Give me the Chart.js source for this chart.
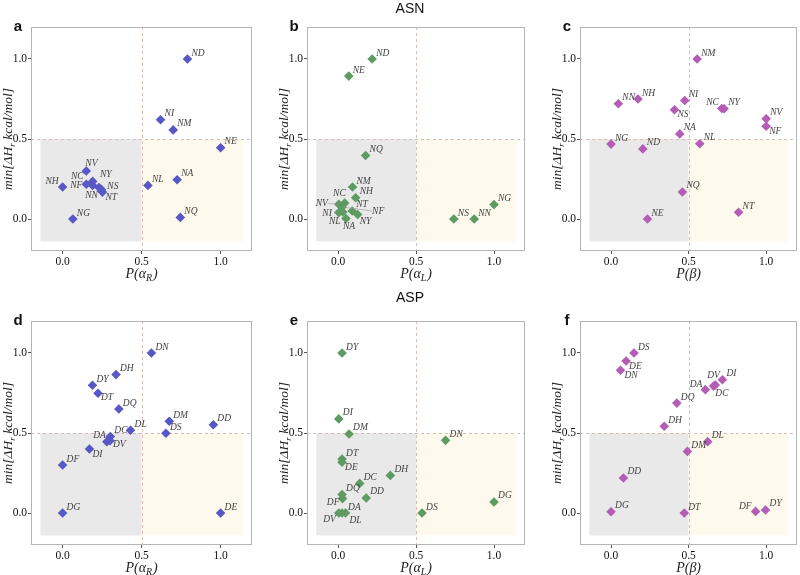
<!DOCTYPE html>
<html>
<head>
<meta charset="utf-8">
<script src="https://cdn.jsdelivr.net/npm/chart.js@4/dist/chart.umd.min.js"></script>
<style>
  body { margin: 0; width: 800px; height: 575px; overflow: hidden; background: #fff; position: relative; font-family: "Liberation Sans", Arial, sans-serif; }
  .panel { position: absolute; }
  .head { position: absolute; font-size: 14px; color: #111; z-index: 2; transform: translateX(-50%); }
</style>
</head>
<body>
<div class="head" style="left:410px;top:0px">ASN</div>
<div class="head" style="left:410px;top:289px">ASP</div>
<canvas class="panel" id="pa"></canvas>
<canvas class="panel" id="pb"></canvas>
<canvas class="panel" id="pc"></canvas>
<canvas class="panel" id="pd"></canvas>
<canvas class="panel" id="pe"></canvas>
<canvas class="panel" id="pf"></canvas>
<script>
// tick values shared by every panel
var xTicks = [0, 0.5, 1];
var yTicks = [0, 0.5, 1];

// ASN, P(alpha_R)
var aNames = ['ND','NI','NM','NE','NA','NL','NQ','NG','NH','NV','NC','NY','NF','NN','NS','NT'];
var aX = [0.79, 0.62, 0.70, 1.0, 0.725, 0.54, 0.745, 0.065, 0.0, 0.15, 0.19, 0.23, 0.15, 0.19, 0.245, 0.252];
var aY = [1.0, 0.62, 0.557, 0.445, 0.245, 0.21, 0.01, 0.0, 0.2, 0.3, 0.235, 0.197, 0.217, 0.21, 0.185, 0.168];

// ASN, P(alpha_L)
var bNames = ['ND','NE','NQ','NM','NH','NS','NN','NG','NV','NC','NF','NI','NL','NT','NY','NA'];
var bX = [0.218, 0.068, 0.176, 0.092, 0.112, 0.742, 0.873, 1.0, 0.004, 0.042, 0.025, 0.004, 0.03, 0.09, 0.125, 0.05];
var bY = [1.0, 0.893, 0.397, 0.2, 0.133, 0.0, 0.0, 0.09, 0.092, 0.1, 0.075, 0.04, 0.044, 0.05, 0.028, 0.003];

// ASN, P(beta)
var cNames = ['NM','NN','NH','NI','NS','NC','NY','NV','NF','NA','NG','ND','NL','NQ','NE','NT'];
var cX = [0.555, 0.047, 0.174, 0.475, 0.409, 0.714, 0.729, 1.0, 1.0, 0.443, 0.0, 0.205, 0.572, 0.46, 0.235, 0.822];
var cY = [1.0, 0.72, 0.75, 0.741, 0.683, 0.691, 0.689, 0.626, 0.58, 0.532, 0.468, 0.438, 0.47, 0.169, 0.0, 0.042];

// ASP, P(alpha_R)
var dNames = ['DN','DH','DY','DT','DQ','DM','DD','DS','DL','DC','DA','DV','DI','DF','DG','DE'];
var dX = [0.562, 0.338, 0.189, 0.224, 0.356, 0.675, 0.954, 0.654, 0.43, 0.302, 0.28, 0.3, 0.17, 0.0, 0.0, 1.0];
var dY = [1.0, 0.865, 0.798, 0.748, 0.65, 0.573, 0.552, 0.498, 0.517, 0.478, 0.445, 0.452, 0.4, 0.3, 0.0, 0.0];

// ASP, P(alpha_L)
var eNames = ['DY','DI','DM','DN','DT','DE','DH','DC','DQ','DF','DD','DS','DG','DV','DA','DL'];
var eX = [0.025, 0.004, 0.07, 0.689, 0.025, 0.025, 0.335, 0.138, 0.025, 0.028, 0.18, 0.538, 1.0, 0.004, 0.025, 0.047];
var eY = [1.0, 0.588, 0.494, 0.454, 0.337, 0.317, 0.235, 0.185, 0.115, 0.09, 0.094, 0.0, 0.069, 0.0, 0.0, 0.0];

// ASP, P(beta)
var fNames = ['DS','DE','DN','DV','DI','DA','DC','DQ','DH','DL','DM','DD','DG','DT','DF','DY'];
var fX = [0.148, 0.097, 0.061, 0.661, 0.718, 0.608, 0.672, 0.424, 0.343, 0.623, 0.492, 0.08, 0.0, 0.472, 0.932, 0.996];
var fY = [1.0, 0.95, 0.892, 0.793, 0.833, 0.771, 0.8, 0.687, 0.542, 0.446, 0.385, 0.219, 0.008, 0.0, 0.01, 0.019];

// label placement tweaks (px from the marker): [dx, dy, align, leader line]
var aNudge = {NH:[-4,-6,'r'], NV:[-1,-8,'l'], NC:[-9,-5,'r'], NY:[1,-13,'l'], NF:[-4,1,'r'], NN:[-1,10,'c'], NS:[6,-3,'l'], NT:[3,5,'l']};
var bNudge = {NC:[1,-10,'r'], NV:[-11,-1,'r',1], NT:[4,-7,'l'], NF:[30,4,'l',1], NI:[-7,1,'r'], NL:[-8,10,'c'], NA:[3,8,'c'], NY:[2,7,'l']};
var cNudge = {NS:[3,5,'l'], NC:[-3,-6,'r'], NF:[3,5,'l']};
var dNudge = {DT:[3,4,'l'], DA:[-1,-6,'r'], DV:[3,4,'l'], DI:[3,5,'l']};
var eNudge = {DE:[3,5,'l'], DF:[-3,4,'r'], DV:[-3,6,'r'], DA:[6,-6,'l'], DL:[4,7,'l']};
var fNudge = {DE:[3,5,'l'], DN:[4,5,'l'], DV:[0,-11,'c'], DA:[-3,-5,'r'], DC:[0,8,'l'], DF:[-4,-5,'r']};

var blue = '#5757c6', green = '#5e9b62', purple = '#b45cb6';
var serif = '"Liberation Serif", "DejaVu Serif", serif';

// L/T/W: where the plot box sits on the page (W includes ~4px the layout eats on the right)
var panels = [
  {id:'pa', letter:'a', names:aNames, xs:aX, ys:aY, nudge:aNudge, color:blue,   greek:'α', sub:'R', L:31,  T:27,  W:226},
  {id:'pb', letter:'b', names:bNames, xs:bX, ys:bY, nudge:bNudge, color:green,  greek:'α', sub:'L', L:307, T:27,  W:223},
  {id:'pc', letter:'c', names:cNames, xs:cX, ys:cY, nudge:cNudge, color:purple, greek:'β', sub:'',  L:580, T:27,  W:222},
  {id:'pd', letter:'d', names:dNames, xs:dX, ys:dY, nudge:dNudge, color:blue,   greek:'α', sub:'R', L:31,  T:321, W:226},
  {id:'pe', letter:'e', names:eNames, xs:eX, ys:eY, nudge:eNudge, color:green,  greek:'α', sub:'L', L:307, T:321, W:223},
  {id:'pf', letter:'f', names:fNames, xs:fX, ys:fY, nudge:fNudge, color:purple, greek:'β', sub:'',  L:580, T:321, W:222}
];

var YW = 32, XH = 32, TOP = 27, H = 224;

// shaded quadrants, dashed 0.5 lines and the panel frame
var backdrop = {
  id: 'backdrop',
  beforeDatasetsDraw: function(chart) {
    var ctx = chart.ctx, a = chart.chartArea, x = chart.scales.x, y = chart.scales.y;
    ctx.save();
    ctx.beginPath(); ctx.rect(a.left, a.top, a.right - a.left, a.bottom - a.top); ctx.clip();
    var x0 = x.getPixelForValue(-0.14), xm = x.getPixelForValue(0.5), x1 = x.getPixelForValue(1.14);
    var y0 = y.getPixelForValue(-0.14), ym = y.getPixelForValue(0.5);
    ctx.fillStyle = '#e9e9e9';
    ctx.fillRect(x0, ym, xm - x0, y0 - ym);
    ctx.fillStyle = '#fdf9ec';
    ctx.fillRect(xm, ym, x1 - xm, y0 - ym);
    ctx.strokeStyle = '#d8bdb6';
    ctx.lineWidth = 1;
    ctx.setLineDash([3, 3]);
    ctx.beginPath();
    ctx.moveTo(Math.round(xm) + 0.5, a.top); ctx.lineTo(Math.round(xm) + 0.5, a.bottom);
    ctx.moveTo(a.left, Math.round(ym) + 0.5); ctx.lineTo(a.right, Math.round(ym) + 0.5);
    ctx.stroke();
    ctx.restore();
    ctx.save();
    ctx.strokeStyle = '#b5b5b5';
    ctx.lineWidth = 1;
    ctx.strokeRect(Math.round(a.left) + 0.5, Math.round(a.top) + 0.5, Math.round(a.right - a.left) - 1, Math.round(a.bottom - a.top) - 1);
    ctx.restore();
  }
};

// point names, axis titles and the panel letter
var annotate = {
  id: 'annotate',
  afterDatasetsDraw: function(chart) {
    var p = chart.options.plugins.annotate;
    var ctx = chart.ctx, a = chart.chartArea;
    var meta = chart.getDatasetMeta(0);
    ctx.save();
    ctx.font = 'italic 9.5px ' + serif;
    ctx.fillStyle = '#444';
    ctx.textBaseline = 'middle';
    meta.data.forEach(function(pt, i) {
      var n = p.names[i];
      var nd = p.nudge[n] || [4, -6, 'l'];
      var tx = pt.x + nd[0], ty = pt.y + nd[1];
      if (nd[3]) {
        ctx.strokeStyle = '#999';
        ctx.lineWidth = 0.6;
        ctx.beginPath(); ctx.moveTo(pt.x, pt.y); ctx.lineTo(tx, ty); ctx.stroke();
      }
      ctx.textAlign = nd[2] === 'r' ? 'right' : (nd[2] === 'c' ? 'center' : 'left');
      ctx.fillText(n, tx, ty);
    });
    ctx.restore();

    // x title: P(greek_sub)
    ctx.save();
    ctx.fillStyle = '#222';
    ctx.textBaseline = 'alphabetic';
    ctx.textAlign = 'left';
    var big = 'italic 14px ' + serif, small = 'italic 10px ' + serif;
    ctx.font = big;
    var w1 = ctx.measureText('P(' + p.greek).width, w3 = ctx.measureText(')').width;
    ctx.font = small;
    var w2 = p.sub ? ctx.measureText(p.sub).width + 1 : 0;
    var cx = (a.left + a.right) / 2 - (w1 + w2 + w3) / 2, by = a.bottom + 27;
    ctx.font = big; ctx.fillText('P(' + p.greek, cx, by);
    if (p.sub) { ctx.font = small; ctx.fillText(p.sub, cx + w1, by + 3); }
    ctx.font = big; ctx.fillText(')', cx + w1 + w2, by);
    ctx.restore();

    // y title, rotated
    ctx.save();
    ctx.translate(a.left - 19, (a.top + a.bottom) / 2);
    ctx.rotate(-Math.PI / 2);
    ctx.fillStyle = '#222';
    ctx.textBaseline = 'alphabetic';
    ctx.textAlign = 'left';
    var yf = 'italic 13.5px ' + serif, ys = 'italic 9px ' + serif;
    ctx.font = yf;
    var s1 = 'min[ΔH', s3 = ' kcal/mol]';
    var v1 = ctx.measureText(s1).width, v3 = ctx.measureText(s3).width;
    ctx.font = ys;
    var v2 = ctx.measureText('r').width;
    var sx = -(v1 + v2 + v3) / 2;
    ctx.font = yf; ctx.fillText(s1, sx, 0);
    ctx.font = ys; ctx.fillText('r', sx + v1, 3);
    ctx.font = yf; ctx.fillText(s3, sx + v1 + v2, 0);
    ctx.restore();

    // panel letter
    ctx.save();
    ctx.font = 'bold 15px "Liberation Sans", Arial, sans-serif';
    ctx.fillStyle = '#111';
    ctx.textAlign = 'center';
    ctx.textBaseline = 'alphabetic';
    ctx.fillText(p.letter, a.left - 13, a.top + 4);
    ctx.restore();
  }
};

panels.forEach(function(p) {
  var cv = document.getElementById(p.id);
  var cw = YW + p.W, ch = TOP + H + XH;
  cv.width = cw; cv.height = ch;
  cv.style.left = (p.L - YW) + 'px';
  cv.style.top = (p.T - TOP) + 'px';
  cv.style.width = cw + 'px'; cv.style.height = ch + 'px';

  var pts = p.xs.map(function(v, i) { return {x: v, y: p.ys[i]}; });

  new Chart(cv, {
    type: 'scatter',
    data: {
      datasets: [{
        data: pts,
        pointStyle: 'rectRot',
        pointRadius: 4.8,
        pointHoverRadius: 4.8,
        backgroundColor: p.color,
        borderColor: p.color,
        borderWidth: 0
      }]
    },
    options: {
      responsive: false,
      animation: false,
      events: [],
      layout: { padding: { top: TOP, right: 0, left: 0, bottom: 0 } },
      plugins: {
        legend: { display: false },
        tooltip: { enabled: false },
        annotate: { names: p.names, nudge: p.nudge, greek: p.greek, sub: p.sub, letter: p.letter }
      },
      scales: {
        x: {
          type: 'linear', min: -0.2, max: 1.2,
          afterBuildTicks: function(s) { s.ticks = xTicks.map(function(v) { return {value: v}; }); },
          afterFit: function(s) { s.height = XH; },
          ticks: { callback: function(v) { return v.toFixed(1); }, font: { family: serif, size: 11.5 }, color: '#111', padding: 1, maxRotation: 0 },
          grid: { drawOnChartArea: false, drawTicks: true, tickLength: 3, color: '#555' },
          border: { display: false }
        },
        y: {
          type: 'linear', min: -0.2, max: 1.2,
          afterBuildTicks: function(s) { s.ticks = yTicks.map(function(v) { return {value: v}; }); },
          afterFit: function(s) { s.width = YW; },
          ticks: { callback: function(v) { return v.toFixed(1); }, font: { family: serif, size: 11.5 }, color: '#111', padding: 1 },
          grid: { drawOnChartArea: false, drawTicks: true, tickLength: 3, color: '#555' },
          border: { display: false }
        }
      }
    },
    plugins: [backdrop, annotate]
  });
});
</script>
</body>
</html>
